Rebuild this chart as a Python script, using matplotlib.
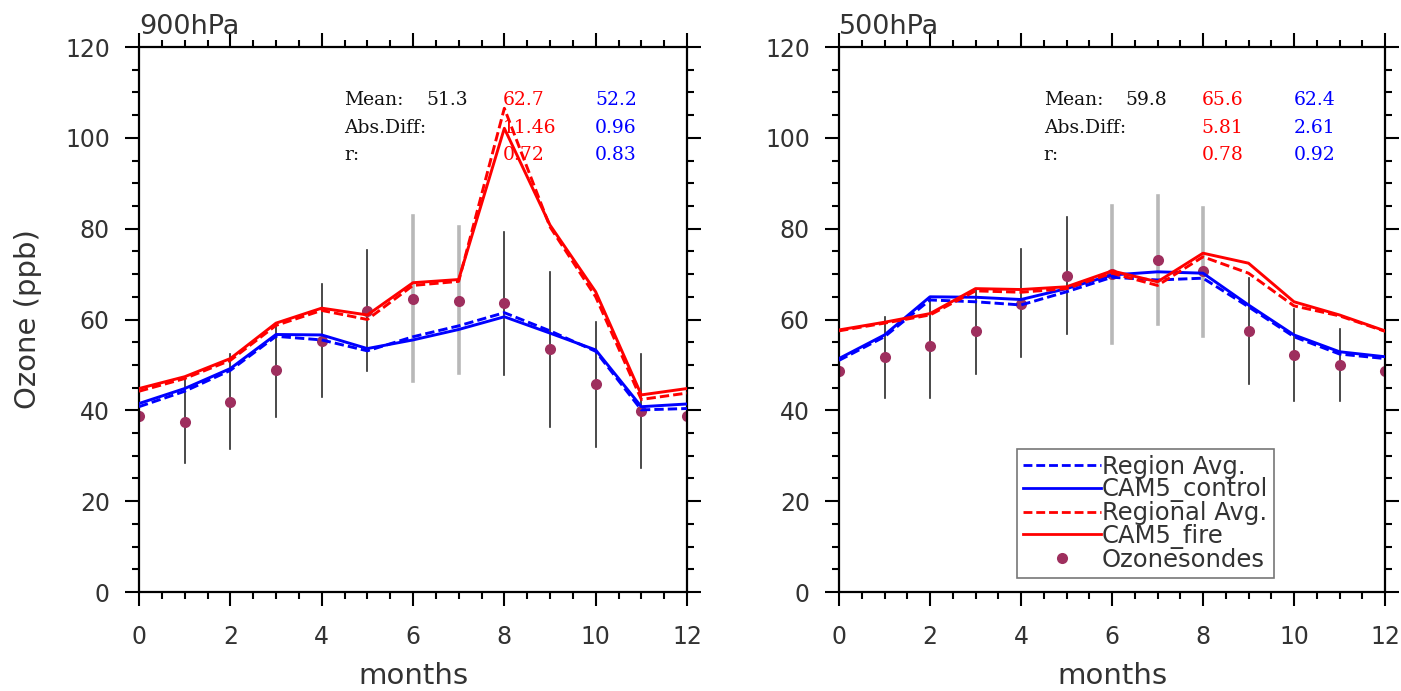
import numpy as np
import matplotlib
matplotlib.use("Agg")
import matplotlib.pyplot as plt
from matplotlib.ticker import MultipleLocator

months = np.arange(13)

# 900 hPa
obs_900 = [38.8, 37.5, 41.8, 48.9, 55.3, 61.9, 64.5, 64.1, 63.6, 53.4, 45.8, 39.8, 38.8]
obs_hi_900 = [np.nan, 46.9, 52.4, 59.2, 67.8, 75.3, 82.8, 80.3, 79.3, 70.5, 59.5, 52.5, np.nan]
obs_lo_900 = [np.nan, 28.5, 31.4, 38.6, 43.0, 48.7, 46.5, 48.2, 47.8, 36.4, 32.0, 27.4, np.nan]
fire_900 = [44.8, 47.4, 51.4, 59.2, 62.5, 61.0, 68.1, 68.8, 102.1, 80.8, 66.1, 43.4, 44.8]
fire_reg_900 = [44.2, 47.0, 51.0, 58.7, 62.0, 60.0, 67.5, 68.4, 106.5, 80.4, 65.0, 42.4, 43.8]
ctrl_900 = [41.5, 44.8, 49.2, 56.7, 56.6, 53.6, 55.5, 57.8, 60.6, 57.0, 53.3, 40.8, 41.4]
ctrl_reg_900 = [40.8, 44.2, 48.8, 56.3, 55.5, 53.1, 56.2, 58.6, 61.5, 57.5, 53.0, 40.1, 40.4]
stats_900 = {"obs": "51.3", "fire": ["62.7", "11.46", "0.72"], "ctrl": ["52.2", "0.96", "0.83"]}

# 500 hPa
obs_500 = [48.7, 51.8, 54.2, 57.5, 63.4, 69.6, 70.0, 73.1, 70.7, 57.5, 52.2, 50.0, 48.7]
obs_hi_500 = [np.nan, 60.6, 65.0, 66.8, 75.6, 82.5, 85.0, 87.2, 84.5, 69.1, 62.4, 57.8, np.nan]
obs_lo_500 = [np.nan, 42.8, 42.8, 48.0, 51.7, 56.7, 54.9, 59.0, 56.4, 45.8, 42.0, 42.0, np.nan]
fire_500 = [57.7, 59.4, 61.3, 66.8, 66.6, 67.2, 70.7, 68.3, 74.6, 72.4, 63.9, 61.0, 57.5]
fire_reg_500 = [57.5, 59.2, 61.0, 66.3, 66.0, 66.8, 70.2, 67.5, 73.8, 70.2, 63.0, 60.8, 57.4]
ctrl_500 = [51.4, 56.6, 65.0, 64.9, 64.4, 66.8, 69.8, 70.5, 70.2, 63.2, 56.6, 52.9, 51.8]
ctrl_reg_500 = [51.0, 56.2, 64.3, 63.9, 63.2, 66.1, 69.3, 68.7, 69.1, 62.8, 56.2, 52.4, 51.4]
stats_500 = {"obs": "59.8", "fire": ["65.6", "5.81", "0.78"], "ctrl": ["62.4", "2.61", "0.92"]}

# months whose sonde spread is drawn in light grey
light_bars_900 = [6, 7]
light_bars_500 = [6, 7, 8]

DOT = "#9e2f5e"
TXT = "#333333"
DASH = (0, (3.2, 1.4))

fig = plt.figure(figsize=(14.01, 6.91), dpi=100)
ax1 = fig.add_axes([139 / 1401, 99 / 691, 548 / 1401, 545 / 691])
ax2 = fig.add_axes([839 / 1401, 99 / 691, 546 / 1401, 545 / 691])


def draw_panel(ax, title, obs, hi, lo, fire, fire_reg, ctrl, ctrl_reg, stats, light):
    for m, h, l in zip(months, hi, lo):
        if np.isnan(h):
            continue
        if m in light:
            ax.plot([m, m], [l, h], color="#b8b8b8", lw=2.6, zorder=1)
        else:
            ax.plot([m, m], [l, h], color="#2a2a2a", lw=1.2, zorder=1)
    ax.plot(months, obs, "o", color=DOT, ms=8, mec="none", zorder=2)
    ax.plot(months, ctrl_reg, color="blue", lw=2.1, ls=DASH, zorder=3)
    ax.plot(months, ctrl, color="blue", lw=2.1, zorder=3)
    ax.plot(months, fire_reg, color="red", lw=2.1, ls=DASH, zorder=3)
    ax.plot(months, fire, color="red", lw=2.1, zorder=3)

    ax.set_xlim(0, 12)
    ax.set_ylim(0, 120)
    ax.xaxis.set_major_locator(MultipleLocator(2))
    ax.xaxis.set_minor_locator(MultipleLocator(0.5))
    ax.yaxis.set_major_locator(MultipleLocator(20))
    ax.yaxis.set_minor_locator(MultipleLocator(5))
    ax.tick_params(which="both", direction="out", top=True, right=True,
                   width=1.5, colors="black", labelcolor=TXT, labelsize=17)
    ax.tick_params(which="major", length=10)
    ax.tick_params(which="minor", length=5)
    ax.tick_params(axis="y", pad=11)
    ax.tick_params(axis="x", pad=14)
    for s in ax.spines.values():
        s.set_linewidth(1.6)

    ax.set_xlabel("months", fontsize=21, color=TXT)
    ax.xaxis.set_label_coords(0.5, -0.128)
    ax.text(0.0, 1.012, title, transform=ax.transAxes, fontsize=19.5, color=TXT,
            ha="left", va="bottom")

    rows = [0.902, 0.851, 0.801]
    tf = dict(transform=ax.transAxes, fontsize=13.5, va="center", ha="left",
              family="DejaVu Serif")
    for y, name in zip(rows, ["Mean:", "Abs.Diff:", "r:"]):
        ax.text(0.375, y, name, color="#111111", **tf)
    ax.text(0.525, rows[0], stats["obs"], color="#111111", **tf)
    for y, f, c in zip(rows, stats["fire"], stats["ctrl"]):
        ax.text(0.664, y, f, color="red", **tf)
        ax.text(0.832, y, c, color="blue", **tf)


draw_panel(ax1, "900hPa", obs_900, obs_hi_900, obs_lo_900, fire_900, fire_reg_900,
           ctrl_900, ctrl_reg_900, stats_900, light_bars_900)
draw_panel(ax2, "500hPa", obs_500, obs_hi_500, obs_lo_500, fire_500, fire_reg_500,
           ctrl_500, ctrl_reg_500, stats_500, light_bars_500)

ax1.set_ylabel("Ozone (ppb)", fontsize=21, color=TXT)
ax1.yaxis.set_label_coords(-0.177, 0.5)

handles = [
    plt.Line2D([], [], color="blue", lw=2, ls=DASH),
    plt.Line2D([], [], color="blue", lw=2),
    plt.Line2D([], [], color="red", lw=2, ls=DASH),
    plt.Line2D([], [], color="red", lw=2),
    plt.Line2D([], [], ls="none", marker="o", color=DOT, ms=8, mec="none"),
]
labels = ["Region Avg.", "CAM5_control", "Regional Avg.", "CAM5_fire", "Ozonesondes"]
leg = ax2.legend(handles, labels, loc="lower left", bbox_to_anchor=(0.326, 0.026),
                 borderaxespad=0, fontsize=17.5, handlelength=3.2, handletextpad=0.05,
                 labelspacing=-0.05, borderpad=0.25, fancybox=False, framealpha=1,
                 edgecolor="#777777")
leg.get_frame().set_linewidth(1.2)
for t in leg.get_texts():
    t.set_color(TXT)

fig.savefig("out.png", dpi=100)
